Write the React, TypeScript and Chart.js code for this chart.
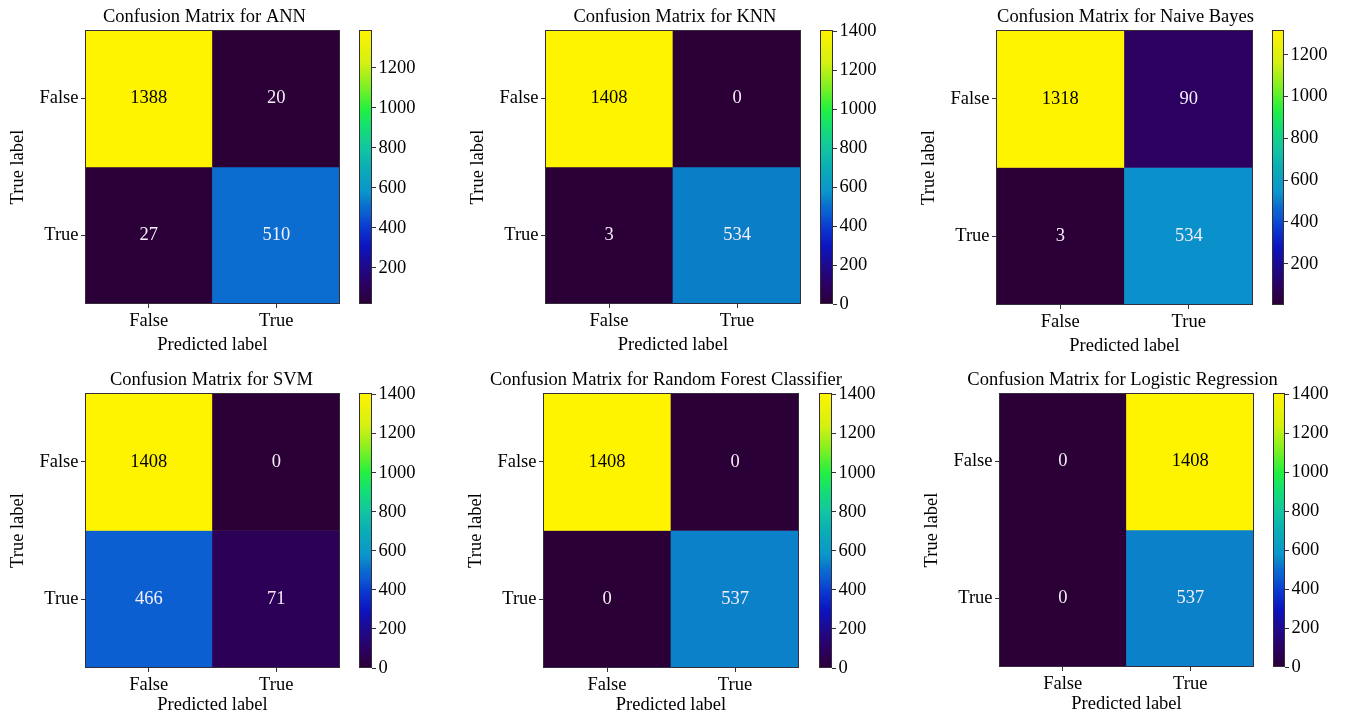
import React, { useEffect, useRef } from "react";
import { Chart, registerables } from "chart.js";

Chart.register(...registerables);

// ---------------- DATA ----------------
const classLabels = ["False", "True"];
const modelNames = [
  "ANN",
  "KNN",
  "Naive Bayes",
  "SVM",
  "Random Forest Classifier",
  "Logistic Regression",
];
const annMatrix = [
  [1388, 20],
  [27, 510],
];
const knnMatrix = [
  [1408, 0],
  [3, 534],
];
const nbMatrix = [
  [1318, 90],
  [3, 534],
];
const svmMatrix = [
  [1408, 0],
  [466, 71],
];
const rfMatrix = [
  [1408, 0],
  [0, 537],
];
const lrMatrix = [
  [0, 1408],
  [0, 537],
];
const colorbarTicks = [0, 200, 400, 600, 800, 1000, 1200, 1400];
const titlePrefix = "Confusion Matrix for ";
const xAxisTitle = "Predicted label";
const yAxisTitle = "True label";

const matrices = [annMatrix, knnMatrix, nbMatrix, svmMatrix, rfMatrix, lrMatrix];

// ---------------- STYLE / LAYOUT ----------------
const FONT_FAMILY = '"Liberation Serif", "Times New Roman", Times, serif';
const FONT_SIZE = 18.5;
const font = { family: FONT_FAMILY, size: FONT_SIZE, weight: "normal" as const, lineHeight: 1.2 };
const LINE_COLOR = "#352c3c";

// plot rectangle [left, top, right, bottom], colorbar [left, right], x-axis box height, x-title bottom padding
const panelLayout = [
  { plot: [85, 30, 340, 304], cbar: [359, 372], xH: 55, xPb: 2.9, titleDx: -8 },
  { plot: [545, 30, 801, 304], cbar: [820, 833], xH: 55, xPb: 2.9, titleDx: 2 },
  { plot: [996, 30, 1253, 305], cbar: [1272, 1284], xH: 55, xPb: 2.9, titleDx: 1 },
  { plot: [85, 393, 340, 668], cbar: [359, 372], xH: 50, xPb: 1.9, titleDx: -1 },
  { plot: [543, 393, 799, 668], cbar: [819, 832], xH: 50, xPb: 1.9, titleDx: -5 },
  { plot: [999, 393, 1254, 667], cbar: [1273, 1285], xH: 50, xPb: 1.9, titleDx: -4 },
];

const Y_AXIS_W = 80;
const TITLE_H = 30;
const TITLE_GAP = 12.5;
const RIGHT_PAD = 60;
const CBAR_AXIS_W = 55;
const CBAR_PAD = 15;

const CMAP: [number, string][] = [
  [0.0, "#2b0036"],
  [0.07, "#2b0062"],
  [0.14, "#1e0a8e"],
  [0.21, "#0c14bf"],
  [0.28, "#0a3ad0"],
  [0.33, "#0b5ed1"],
  [0.36, "#0a6ecf"],
  [0.38, "#0a80c8"],
  [0.41, "#0a95cc"],
  [0.5, "#0aaeb4"],
  [0.57, "#12c6a0"],
  [0.65, "#14e070"],
  [0.71, "#22f040"],
  [0.8, "#86f020"],
  [0.88, "#d4f012"],
  [1.0, "#fff400"],
];

function hexToRgb(h: string) {
  const n = parseInt(h.slice(1), 16);
  return [(n >> 16) & 255, (n >> 8) & 255, n & 255];
}

function colormap(t: number) {
  const x = Math.max(0, Math.min(1, t));
  for (let i = 1; i < CMAP.length; i++) {
    const [t1, c1] = CMAP[i];
    const [t0, c0] = CMAP[i - 1];
    if (x <= t1) {
      const f = (x - t0) / (t1 - t0 || 1);
      const a = hexToRgb(c0);
      const b = hexToRgb(c1);
      const r = a.map((v, k) => Math.round(v + (b[k] - v) * f));
      return `rgb(${r[0]},${r[1]},${r[2]})`;
    }
  }
  return CMAP[CMAP.length - 1][1];
}

const framePlugin = {
  id: "frame",
  afterDatasetsDraw(chart: any) {
    const { ctx, chartArea } = chart;
    ctx.save();
    ctx.strokeStyle = LINE_COLOR;
    ctx.lineWidth = 1;
    const l = Math.round(chartArea.left) + 0.5;
    const t = Math.round(chartArea.top) + 0.5;
    const r = Math.round(chartArea.right) - 0.5;
    const b = Math.round(chartArea.bottom) - 0.5;
    ctx.strokeRect(l, t, r - l, b - t);
    ctx.restore();
  },
};

// panel title, centred above the plot area, drawn at its natural width
const panelTitlePlugin = {
  id: "panelTitle",
  afterDraw(chart: any) {
    const opts = (chart.options as any)._panelTitle;
    if (!opts) return;
    const { ctx, chartArea } = chart;
    ctx.save();
    ctx.font = `${FONT_SIZE}px ${FONT_FAMILY}`;
    ctx.fillStyle = "#000";
    ctx.textAlign = "center";
    ctx.textBaseline = "middle";
    ctx.fillText(opts.text, (chartArea.left + chartArea.right) / 2 + opts.dx, chartArea.top - TITLE_GAP);
    ctx.restore();
  },
};

const annotatePlugin = {
  id: "annotate",
  afterDatasetsDraw(chart: any) {
    const { ctx } = chart;
    const thr = (chart.options as any)._threshold;
    ctx.save();
    ctx.font = `${FONT_SIZE}px ${FONT_FAMILY}`;
    ctx.textAlign = "center";
    ctx.textBaseline = "middle";
    chart.data.datasets.forEach((ds: any, di: number) => {
      const meta = chart.getDatasetMeta(di);
      meta.data.forEach((el: any, i: number) => {
        const v = ds.data[i].v;
        const cy = (el.y + el.base) / 2;
        ctx.fillStyle = v < thr ? "#f6eefa" : "#000000";
        ctx.fillText(String(v), el.x, cy);
      });
    });
    ctx.restore();
  },
};

function tickGrid() {
  return {
    display: true,
    drawOnChartArea: false,
    drawTicks: true,
    tickLength: 4,
    color: LINE_COLOR,
    lineWidth: 1,
  };
}

function heatmapConfig(name: string, matrix: number[][], lay: any) {
  const flat = matrix.flat();
  const vmin = Math.min(...flat);
  const vmax = Math.max(...flat);
  const datasets = matrix.map((row, r) => ({
    data: row.map((v, c) => ({ x: classLabels[c], y: [r, r + 1], v })),
    backgroundColor: row.map((v) => colormap((v - vmin) / (vmax - vmin || 1))),
    borderWidth: 0,
    grouped: false,
    barPercentage: 1,
    categoryPercentage: 1,
  }));
  return {
    type: "bar",
    data: { labels: classLabels, datasets },
    options: {
      _threshold: (vmin + vmax) / 2,
      _panelTitle: { text: titlePrefix + name, dx: lay.titleDx },
      animation: false,
      responsive: false,
      maintainAspectRatio: false,
      layout: { padding: { left: 0, right: RIGHT_PAD, top: TITLE_H, bottom: 0 } },
      plugins: {
        legend: { display: false },
        tooltip: { enabled: false },
        title: { display: false },
      },
      scales: {
        x: {
          type: "category",
          position: "bottom",
          offset: true,
          grid: { ...tickGrid(), offset: false },
          border: { display: false },
          ticks: { color: "#000", font, padding: 2.5, maxRotation: 0, autoSkip: false },
          title: {
            display: true,
            text: xAxisTitle,
            color: "#000",
            font,
            padding: { top: 0, bottom: lay.xPb },
          },
          afterFit: (s: any) => {
            s.height = lay.xH;
          },
        },
        y: {
          type: "linear",
          position: "left",
          min: 0,
          max: classLabels.length,
          reverse: true,
          grid: tickGrid(),
          border: { display: false },
          afterBuildTicks: (s: any) => {
            s.ticks = classLabels.map((_, i) => ({ value: i + 0.5 }));
          },
          ticks: {
            color: "#000",
            font,
            padding: 2.5,
            callback: (v: number) => classLabels[Math.floor(v)],
          },
          title: {
            display: true,
            text: yAxisTitle,
            color: "#000",
            font,
            padding: { top: 2, bottom: 0 },
          },
          afterFit: (s: any) => {
            s.width = Y_AXIS_W;
          },
        },
      },
    },
    plugins: [framePlugin, annotatePlugin, panelTitlePlugin],
  };
}

function colorbarConfig(matrix: number[][]) {
  const flat = matrix.flat();
  const vmin = Math.min(...flat);
  const vmax = Math.max(...flat);
  return {
    type: "bar",
    data: {
      labels: [""],
      datasets: [
        {
          data: [[vmin, vmax]],
          backgroundColor: (c: any) => {
            const chart = c.chart;
            const { ctx, chartArea, scales } = chart;
            if (!chartArea || !scales.y) return CMAP[0][1];
            const y0 = scales.y.getPixelForValue(vmin);
            const y1 = scales.y.getPixelForValue(vmax);
            const g = ctx.createLinearGradient(0, y0, 0, y1);
            CMAP.forEach(([t, col]) => g.addColorStop(t, col));
            return g;
          },
          borderWidth: 0,
          barPercentage: 1,
          categoryPercentage: 1,
        },
      ],
    },
    options: {
      animation: false,
      responsive: false,
      maintainAspectRatio: false,
      layout: { padding: { left: 0, right: 0, top: CBAR_PAD, bottom: CBAR_PAD } },
      plugins: {
        legend: { display: false },
        tooltip: { enabled: false },
        title: { display: false },
      },
      scales: {
        x: { display: false },
        y: {
          type: "linear",
          position: "right",
          min: vmin,
          max: vmax,
          grid: tickGrid(),
          border: { display: false },
          afterBuildTicks: (s: any) => {
            s.ticks = colorbarTicks
              .filter((v) => v >= vmin && v <= vmax)
              .map((v) => ({ value: v }));
          },
          ticks: {
            color: "#000",
            font,
            padding: 2.5,
            callback: (v: number) => String(v),
          },
          afterFit: (s: any) => {
            s.width = CBAR_AXIS_W;
          },
        },
      },
    },
    plugins: [framePlugin],
  };
}

export default function App() {
  const refs = useRef<(HTMLCanvasElement | null)[]>([]);

  useEffect(() => {
    const charts: Chart[] = [];
    matrices.forEach((m, i) => {
      const lay = panelLayout[i];
      const hc = refs.current[2 * i];
      const cc = refs.current[2 * i + 1];
      if (hc) charts.push(new Chart(hc, heatmapConfig(modelNames[i], m, lay) as any));
      if (cc) charts.push(new Chart(cc, colorbarConfig(m) as any));
    });
    return () => charts.forEach((c) => c.destroy());
  }, []);

  const canvases: React.ReactNode[] = [];
  panelLayout.forEach((lay, i) => {
    const [L, T, R, B] = lay.plot;
    const [cl, cr] = lay.cbar;
    const cw = cr - cl + CBAR_AXIS_W;
    const ch = B - T + 2 * CBAR_PAD;
    canvases.push(
      <canvas
        key={`c${i}`}
        ref={(el) => {
          refs.current[2 * i + 1] = el;
        }}
        width={cw}
        height={ch}
        style={{ position: "absolute", left: cl, top: T - CBAR_PAD, width: cw, height: ch }}
      />
    );
    const hw = Y_AXIS_W + (R - L) + RIGHT_PAD;
    const hh = TITLE_H + (B - T) + lay.xH;
    canvases.push(
      <canvas
        key={`h${i}`}
        ref={(el) => {
          refs.current[2 * i] = el;
        }}
        width={hw}
        height={hh}
        style={{ position: "absolute", left: L - Y_AXIS_W, top: T - TITLE_H, width: hw, height: hh }}
      />
    );
  });

  return (
    <div
      style={{
        position: "absolute",
        left: 0,
        top: 0,
        width: 1346,
        height: 715,
        background: "#ffffff",
        overflow: "hidden",
      }}
    >
      {canvases}
    </div>
  );
}
